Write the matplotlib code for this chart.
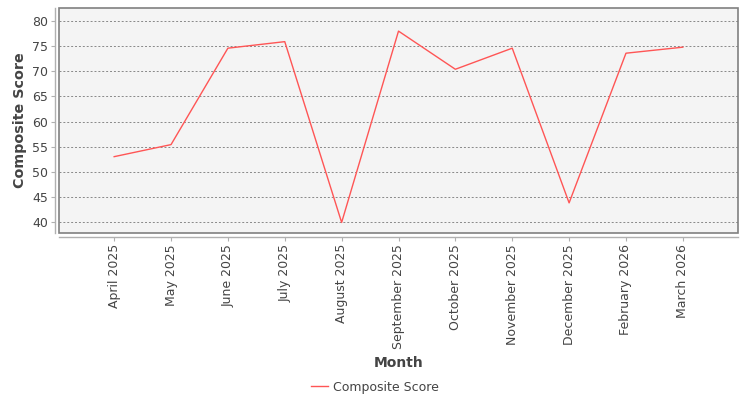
import matplotlib
matplotlib.use("Agg")
import matplotlib.pyplot as plt
from matplotlib.patches import Rectangle

# data
months = ["April 2025", "May 2025", "June 2025", "July 2025", "August 2025",
          "September 2025", "October 2025", "November 2025", "December 2025",
          "February 2026", "March 2026"]
composite_score = [53.0, 55.4, 74.6, 75.9, 39.9, 78.0, 70.4, 74.6, 43.8, 73.6, 74.8]
y_ticks = [40, 45, 50, 55, 60, 65, 70, 75, 80]

W, H = 750, 400
fig = plt.figure(figsize=(7.5, 4), dpi=100)
# plot area in pixels: left 59, right 738, top 8, bottom 233
ax = fig.add_axes([59 / W, (H - 233) / H, 679 / W, 225 / H])
ax.set_facecolor("#f4f4f4")

x = list(range(len(months)))
line, = ax.plot(x, composite_score, color="#ff5555", linewidth=1.0, label="Composite Score")

ax.set_xlim(-0.97, len(months) - 1 + 0.97)
ax.set_ylim(37.8, 82.6)
ax.set_yticks(y_ticks)
ax.set_xticks(x)
ax.set_xticklabels(months)

ax.grid(axis="y", color="#888888", linestyle=(0, (2, 2)), linewidth=0.7)
ax.set_axisbelow(True)

# frame drawn as a rectangle, axis lines set a bit outward like the original
for s in ["top", "right"]:
    ax.spines[s].set_visible(False)
for s in ["left", "bottom"]:
    ax.spines[s].set_position(("outward", 3))
    ax.spines[s].set_color("#b0b0b0")
    ax.spines[s].set_linewidth(1.0)
ax.add_patch(Rectangle((0, 0), 1, 1, transform=ax.transAxes, fill=False,
                       edgecolor="#808080", linewidth=1.2, clip_on=False, zorder=5))

ax.tick_params(axis="both", colors="#b0b0b0", labelcolor="#444444",
               labelsize=9, length=3, width=0.8, pad=2)
ax.tick_params(axis="x", labelrotation=90)

ax.set_ylabel("Composite Score", fontsize=10.3, fontweight="bold", color="#444444")
ax.yaxis.set_label_coords((27 - 59) / 679, 0.5)
ax.set_xlabel("Month", fontsize=10, fontweight="bold", color="#444444")
ax.xaxis.set_label_coords(0.5, (233 - 356) / 225)

leg = fig.legend(handles=[line], loc="center", bbox_to_anchor=(0.5, 1 - 387 / H),
                 frameon=False, fontsize=9, handlelength=1.4, handletextpad=0.4)
for t in leg.get_texts():
    t.set_color("#444444")

fig.savefig("out.png", dpi=100)
